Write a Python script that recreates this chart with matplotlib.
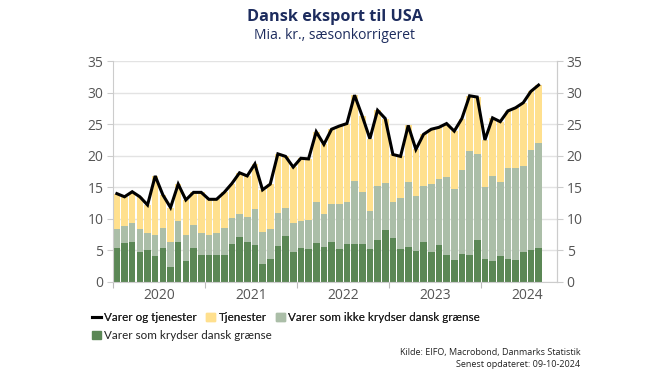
import matplotlib
matplotlib.use("Agg")
import matplotlib.pyplot as plt
from matplotlib.patches import Patch
from matplotlib.lines import Line2D
import numpy as np
import pandas as pd

plt.rcParams['font.family'] = ['Open Sans', 'DejaVu Sans']

months = pd.date_range("2020-01-01", "2024-08-01", freq="MS")

total = [14.0, 13.5, 14.3, 13.5, 12.2, 16.8, 13.8, 11.8, 15.5, 13.0, 14.2, 14.2,
         13.1, 13.1, 14.2, 15.6, 17.3, 16.8, 18.7, 14.6, 15.5, 20.3, 19.9, 18.2,
         19.6, 19.5, 23.8, 21.8, 24.2, 24.7, 25.1, 29.6, 26.3, 22.7, 27.2, 25.9,
         20.2, 19.9, 24.8, 21.0, 23.4, 24.2, 24.5, 25.1, 23.9, 25.9, 29.5, 29.3,
         22.5, 26.0, 25.4, 27.1, 27.6, 28.4, 30.2, 31.2]
goods_total = [8.4, 8.8, 9.4, 8.4, 7.8, 7.4, 8.6, 6.3, 9.7, 7.4, 9.1, 7.8,
               7.5, 7.7, 8.6, 10.1, 10.8, 10.3, 11.6, 7.9, 8.4, 10.9, 11.8, 9.3,
               9.7, 9.9, 12.7, 10.8, 12.3, 12.4, 12.6, 16.0, 14.2, 11.3, 15.2, 15.7,
               12.6, 13.3, 15.9, 13.6, 15.2, 15.6, 16.3, 16.6, 14.8, 17.8, 20.7, 20.2,
               15.1, 16.8, 15.8, 18.0, 18.1, 18.3, 20.9, 22.0]
goods_crossing = [5.4, 6.1, 6.3, 4.7, 5.1, 4.1, 5.4, 2.4, 6.3, 3.4, 5.4, 4.2,
                  4.2, 4.3, 4.3, 6.0, 7.1, 6.3, 5.8, 2.8, 3.7, 5.7, 7.3, 4.7,
                  5.4, 5.3, 6.2, 5.6, 6.3, 5.2, 6.0, 6.0, 6.0, 5.2, 6.7, 8.2,
                  6.9, 5.3, 5.6, 4.9, 6.3, 4.7, 5.8, 4.3, 3.5, 4.4, 4.2, 6.6,
                  3.7, 3.4, 4.1, 3.6, 3.5, 4.7, 5.0, 5.4]

goods_noncross = [g - c for g, c in zip(goods_total, goods_crossing)]
services = [t - g for t, g in zip(total, goods_total)]

years = ["2020", "2021", "2022", "2023", "2024"]
yticks = [0, 5, 10, 15, 20, 25, 30, 35]

c_dark = "#5b8755"
c_light = "#abbea8"
c_yellow = "#ffe08e"
navy = "#1d2c5e"
gray_txt = "#555555"
grid_c = "#e3e3e3"

fig = plt.figure(figsize=(6.7, 3.77), dpi=100)
ax = fig.add_axes([0.1687, 0.252, 0.6626, 0.586])

x = np.arange(len(months))
w = 0.86
ax.bar(x, goods_crossing, width=w, color=c_dark, linewidth=0, zorder=2)
ax.bar(x, goods_noncross, bottom=goods_crossing, width=w, color=c_light, linewidth=0, zorder=2)
ax.bar(x, services, bottom=goods_total, width=w, color=c_yellow, linewidth=0, zorder=2)
ax.plot(x, total, color="black", linewidth=2.2, zorder=3, solid_joinstyle="miter")

ax.set_xlim(-0.5, 57.4)
ax.set_ylim(0, 35)
ax.set_yticks(yticks)
ax.yaxis.grid(True, color=grid_c, linewidth=1, zorder=0)
ax.set_axisbelow(True)

ax.set_xticks([-0.5 + 12 * i for i in range(5)])
ax.set_xticklabels([])
ax.set_xticks([5.5 + 12 * i for i in range(5)], minor=True)
ax.set_xticklabels(years, minor=True)
ax.tick_params(axis="x", which="major", length=4, color="#bbbbbb", width=0.8)
ax.tick_params(axis="x", which="minor", length=0, labelsize=10, labelcolor=gray_txt, pad=4)
ax.tick_params(axis="y", length=4, color="#cccccc", width=0.8, labelsize=10, labelcolor=gray_txt, pad=3)

for s in ["top"]:
    ax.spines[s].set_visible(False)
for s in ["left", "right", "bottom"]:
    ax.spines[s].set_color("#cccccc")
    ax.spines[s].set_linewidth(0.8)

ax2 = ax.twinx()
ax2.set_ylim(0, 35)
ax2.set_yticks(yticks)
ax2.tick_params(axis="y", length=4, color="#cccccc", width=0.8, labelsize=10, labelcolor=gray_txt, pad=3)
for s in ["top", "left", "bottom"]:
    ax2.spines[s].set_visible(False)
ax2.spines["right"].set_color("#cccccc")
ax2.spines["right"].set_linewidth(0.8)

fig.text(0.5, 0.955, "Dansk eksport til USA", ha="center", va="center",
         fontsize=11.7, fontweight="bold", color=navy)
fig.text(0.5, 0.905, "Mia. kr., sæsonkorrigeret", ha="center", va="center",
         fontsize=10, color=navy)

lprops = {"family": ["Lato", "DejaVu Sans"], "size": 8.4}
h1 = [Line2D([0], [0], color="black", linewidth=2.2),
      Patch(color=c_yellow), Patch(color=c_light)]
l1 = ["Varer og tjenester", "Tjenester", "Varer som ikke krydser dansk grænse"]
leg1 = fig.legend(h1, l1, loc="upper left", bbox_to_anchor=(0.137, 0.172), ncol=3,
                  frameon=False, prop=lprops, handlelength=0.75, handleheight=0.75,
                  handletextpad=0.3, columnspacing=0.8, borderaxespad=0, borderpad=0)
for t in leg1.get_texts():
    t.set_color("#222222")
leg2 = fig.legend([Patch(color=c_dark)], ["Varer som krydser dansk grænse"], loc="upper left",
                  bbox_to_anchor=(0.137, 0.124), frameon=False, prop=lprops,
                  handlelength=0.75, handleheight=0.75, handletextpad=0.3,
                  borderaxespad=0, borderpad=0)
for t in leg2.get_texts():
    t.set_color("#222222")
fig.add_artist(leg1)

fig.text(0.866, 0.066, "Kilde: EIFO, Macrobond, Danmarks Statistik", ha="right", va="center",
         fontsize=6.5, color="#222222")
fig.text(0.866, 0.032, "Senest opdateret: 09-10-2024", ha="right", va="center",
         fontsize=6.5, color="#222222")

fig.savefig("out.png", dpi=100)
